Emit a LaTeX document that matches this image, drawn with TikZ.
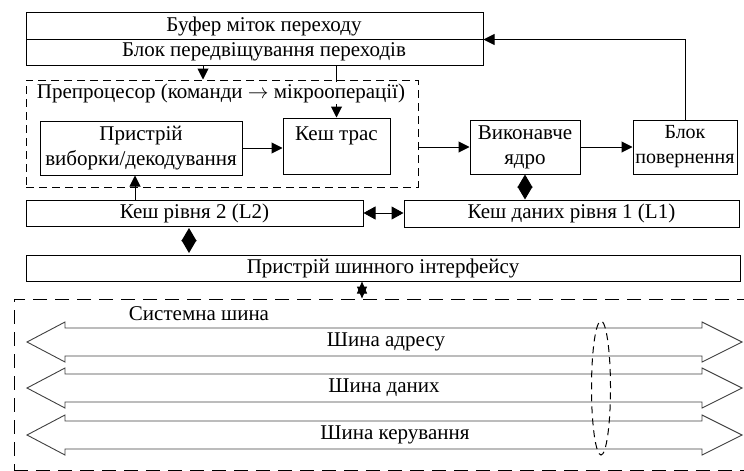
\documentclass[tikz,border=0pt]{standalone}
\usepackage{fontspec}
\setmainfont{Liberation Serif}
\usetikzlibrary{arrows.meta}
\begin{document}
\begin{tikzpicture}[x=1pt,y=-1pt,
  box/.style={draw,line width=1pt,inner sep=0pt,align=center},
  txt/.style={inner sep=1pt,align=center},
  link/.style={line width=1pt,-{Triangle[length=11pt,width=11pt]}},
  pair/.style={line width=1pt,{Triangle[length=12pt,width=13pt]}-{Triangle[length=12pt,width=13pt]}},
  rhomb/.style={line width=1pt,{Triangle[length=13pt,width=15pt]}-{Triangle[length=13pt,width=15pt]}},
  star/.style={line width=1pt,{Triangle[length=12pt,width=10pt]}-{Triangle[length=12pt,width=10pt]}},
  busarrow/.style={draw=black!75,line width=0.9pt},
  font=\fontsize{21}{25}\selectfont]
\useasboundingbox (0,0) rectangle (744,471);

% top block
\node[box,minimum width=457pt,minimum height=27pt] (btb) at (254.5,25.5) {};
\node[txt] (btbtext) at (264,26) {Буфер міток переходу};
\node[box,minimum width=457pt,minimum height=26pt] (bpu) at (254.5,52) {};
\node[txt] (bputext) at (264,52) {Блок передвіщування переходів};

% preprocessor
\node[box,dash pattern=on 8pt off 5pt,minimum width=392pt,minimum height=107pt] (pre) at (222,133.5) {};
\node[box,minimum width=202pt,minimum height=54pt] (fetch) at (141,148) {Пристрій\\виборки/декодування};
\node[box,minimum width=107pt,minimum height=56pt] (tc) at (336.5,146) {Кеш трас\\\phantom{Кеш}};

% core
\node[box,minimum width=110pt,minimum height=54pt] (exec) at (525,147) {Виконавче\\ядро};
\node[box,minimum width=104pt,minimum height=54pt,font=\fontsize{20}{25}\selectfont] (ret) at (685,147) {Блок\\повернення};

% caches
\node[box,minimum width=337pt,minimum height=26pt] (l2) at (194.5,213) {Кеш рівня 2 (L2)};
\node[box,minimum width=335pt,minimum height=27pt] (l1) at (571.5,213.5) {Кеш даних рівня 1 (L1)};
\node[box,minimum width=714pt,minimum height=26pt] (biu) at (383,268) {Пристрій шинного інтерфейсу};

% system bus
\node[box,dash pattern=on 14pt off 8pt,minimum width=734pt,minimum height=171pt] (sys) at (381,384.5) {};
\node[txt] (systext) at (199,314) {Системна шина};

\draw[busarrow] (27,342) -- (65,322) -- (65,328) -- (702,328) -- (702,322) -- (742,342) -- (702,362) -- (702,356) -- (65,356) -- (65,362) -- cycle;
\draw[busarrow] (27,388) -- (65,368) -- (65,374) -- (702,374) -- (702,368) -- (742,388) -- (702,408) -- (702,402) -- (65,402) -- (65,408) -- cycle;
\draw[busarrow] (27,435) -- (65,415) -- (65,421) -- (702,421) -- (702,415) -- (742,435) -- (702,455) -- (702,449) -- (65,449) -- (65,455) -- cycle;
\node[txt] (addr) at (386,342) {Шина адресу};
\node[txt] (data) at (384,388) {Шина даних};
\node[txt] (ctrl) at (395,435) {Шина керування};
\draw[line width=1pt,dash pattern=on 7pt off 5pt] (601,388) ellipse [x radius=9.5pt,y radius=67pt];

% connectors
\draw[link] (tc.north |- bpu.south) -- (tc.north);
\node[txt,fill=white] (pretext) at (221,93) {Препроцесор (команди $\rightarrow$ мікрооперації)};
\draw[link] ([xshift=-51.5pt]bpu.south) -- ([xshift=-51.5pt]bpu.south |- pre.north);
\draw[link] (fetch.east) -- (fetch.east -| tc.west);
\draw[link] ([xshift=-6pt]fetch.south |- l2.north) -- ([xshift=-6pt]fetch.south);
\draw[link] (exec.west -| pre.east) -- (exec.west);
\draw[link] (exec) -- (ret);
\draw[link] (ret.north) |- (btb.south east);
\draw[rhomb] (exec.south) -- (exec.south |- l1.north);
\draw[pair] (l2.east) -- (l2.east -| l1.west);
\draw[rhomb,shorten <=1.5pt,shorten >=1.5pt] ([xshift=-5.5pt]l2.south) -- ([xshift=-5.5pt]l2.south |- biu.north);
\draw[star] ([xshift=-21pt]biu.south) -- ([xshift=-21pt]biu.south |- sys.north);

\end{tikzpicture}
\end{document}
